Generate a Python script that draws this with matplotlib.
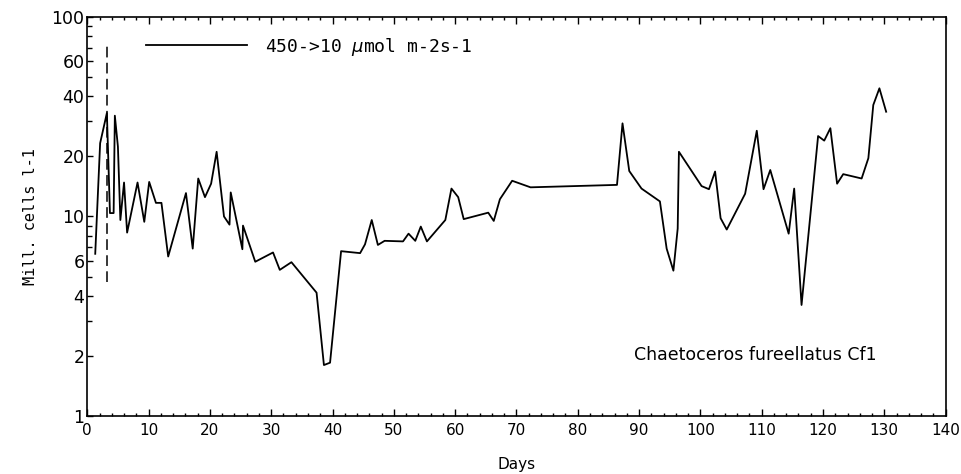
import matplotlib
matplotlib.use("Agg")
import matplotlib.pyplot as plt
from matplotlib.ticker import FixedLocator, FixedFormatter, MultipleLocator, NullFormatter
import numpy as np

# cell density of the culture, read per sampling day
days = [1.3, 2.1, 3.2, 3.7, 4.3, 4.5, 5.0, 5.4, 6.0, 6.5, 8.2, 9.3, 10.1, 11.2, 12.1,
        13.2, 16.1, 17.2, 18.1, 19.2, 20.2, 21.1, 22.3, 23.2, 23.4, 25.3, 25.4, 27.4,
        30.3, 31.4, 33.3, 37.4, 38.6, 39.6, 41.4, 44.5, 45.3, 46.4, 47.4, 48.5, 51.5,
        52.4, 53.5, 54.4, 55.4, 58.4, 59.4, 60.5, 61.4, 65.4, 66.3, 67.3, 69.3, 72.3,
        86.4, 87.3, 88.4, 90.4, 93.4, 94.5, 95.6, 96.3, 96.5, 100.2, 101.4, 102.4,
        103.3, 104.3, 107.3, 109.2, 110.3, 111.4, 114.4, 115.3, 116.5, 119.2, 120.2,
        121.2, 122.3, 123.3, 126.3, 127.4, 128.2, 129.2, 130.3]
cells = [6.5, 23.3, 33.0, 10.4, 10.4, 32.0, 22.4, 9.6, 14.8, 8.3, 14.8, 9.4, 14.9, 11.7, 11.7,
         6.3, 13.1, 6.9, 15.5, 12.5, 14.6, 21.1, 10.0, 9.1, 13.2, 6.85, 9.0, 5.93,
         6.6, 5.4, 5.9, 4.15, 1.80, 1.85, 6.7, 6.55, 7.25, 9.6, 7.2, 7.55, 7.5,
         8.2, 7.55, 8.9, 7.5, 9.6, 13.8, 12.5, 9.7, 10.45, 9.5, 12.2, 15.1, 14.0,
         14.4, 29.3, 16.9, 13.8, 11.9, 6.9, 5.35, 8.7, 21.1, 14.2, 13.7, 16.8,
         9.8, 8.6, 13.0, 26.9, 13.7, 17.1, 8.2, 13.8, 3.6, 25.3, 24.0,
         27.7, 14.6, 16.3, 15.5, 19.6, 36.2, 43.9, 33.5]

# light shift marker
shift_day = 3.16
shift_range = [4.7, 74]

ytick_vals = [1, 2, 4, 6, 10, 20, 40, 60, 100]
ytick_labels = ["1", "2", "4", "6", "10", "20", "40", "60", "100"]

legend_label = "450->10 $\\mu$mol m-2s-1"
species = "Chaetoceros fureellatus Cf1"

fig = plt.figure(figsize=(9.61, 4.74), dpi=100)
ax = fig.add_axes([0.0908, 0.1224, 0.8932, 0.8418])

ax.plot(days, cells, color="black", lw=1.3, label=legend_label)
ax.vlines(shift_day, shift_range[0], shift_range[1], colors="black", lw=1.1,
          linestyles=(0, (7, 3.5)))

ax.set_yscale("log")
ax.set_xlim(0, 140)
ax.set_ylim(1, 100)

ax.xaxis.set_major_locator(MultipleLocator(10))
ax.xaxis.set_minor_locator(MultipleLocator(2))
ax.yaxis.set_major_locator(FixedLocator(ytick_vals))
ax.yaxis.set_major_formatter(FixedFormatter(ytick_labels))
minor_y = [m * 10.0 ** e for e in (0, 1) for m in range(2, 10)]
ax.yaxis.set_minor_locator(FixedLocator(minor_y))
ax.yaxis.set_minor_formatter(NullFormatter())

ax.tick_params(axis="x", which="both", direction="in", top=True, bottom=True,
               labelsize=11, pad=5)
ax.tick_params(axis="x", which="major", length=5, width=1)
ax.tick_params(axis="x", which="minor", length=2.5, width=1)
ax.tick_params(axis="y", which="both", direction="in", left=True, right=False,
               labelsize=12.5, pad=2)
ax.tick_params(axis="y", which="major", length=4, width=1)
ax.tick_params(axis="y", which="minor", length=3.5, width=1)
for s in ax.spines.values():
    s.set_linewidth(1.2)

ax.set_xlabel("Days", fontsize=11, labelpad=14)
ax.set_ylabel("Mill. cells l-1", fontsize=11, family="DejaVu Sans Mono", labelpad=10)

leg = ax.legend(loc="center left", bbox_to_anchor=(0.068, 0.9256), frameon=False,
                handlelength=5.6, handletextpad=1.0, borderpad=0, borderaxespad=0,
                prop={"family": "DejaVu Sans Mono", "size": 13})

ax.text(0.92, 0.153, species, transform=ax.transAxes, ha="right", va="center",
        fontsize=12.5)

fig.savefig("out.png", dpi=100)
